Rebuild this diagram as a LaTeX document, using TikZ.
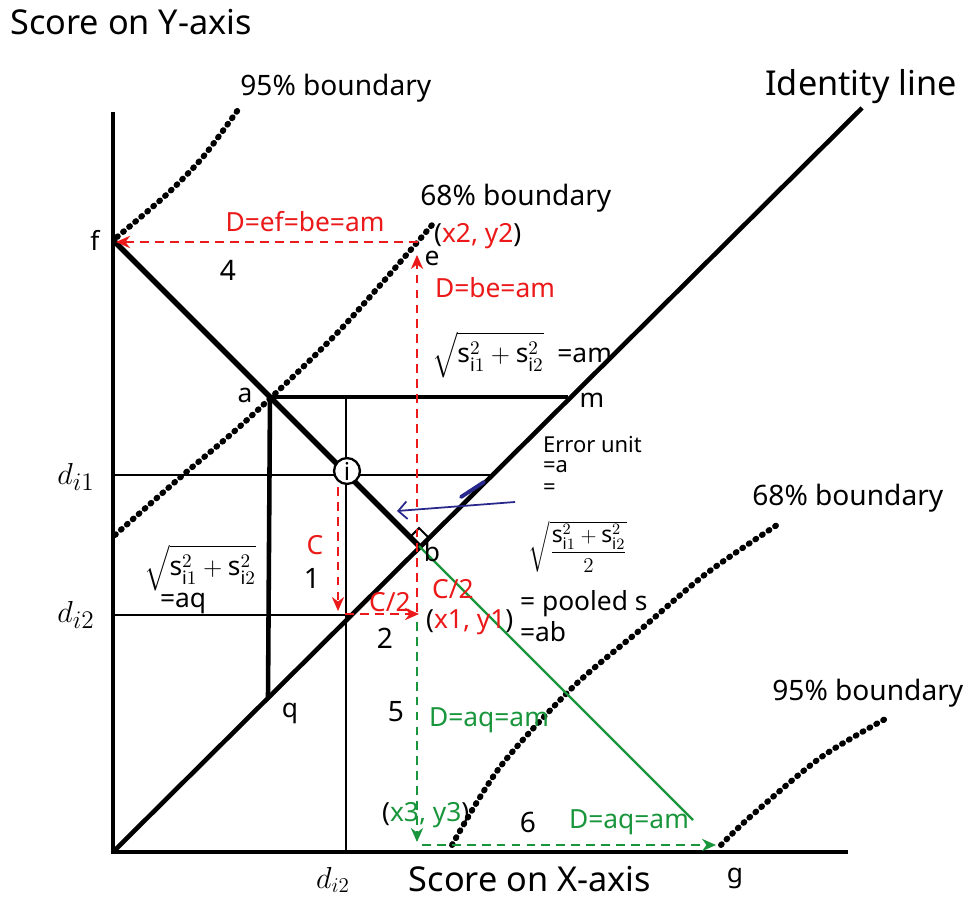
\documentclass[tikz,border=0pt]{standalone}
\usepackage{fontspec}
\setmainfont{Noto Sans}
\usepackage{amsmath}
\usetikzlibrary{arrows.meta,positioning,calc}
\definecolor{errRed}{RGB}{235,25,25}
\definecolor{errGreen}{RGB}{25,150,60}
\definecolor{errBlue}{RGB}{40,40,140}
\begin{document}
\begin{tikzpicture}[x=0.02cm,y=-0.02cm,
    axis/.style={line width=2pt},
    thk/.style={line width=2.6pt},
    thn/.style={line width=1.3pt},
    bnd/.style={line width=3.4pt, dash pattern=on 0.6pt off 3.9pt, line cap=round},
    rdash/.style={errRed, line width=1pt, dash pattern=on 5pt off 3.5pt,
                  -{Stealth[length=8pt,width=7pt]}},
    gdash/.style={rdash, errGreen},
    lbl/.style={font=\fontsize{15}{17}\selectfont, inner sep=1pt},
    big/.style={font=\fontsize{16}{18}\selectfont, inner sep=0pt},
    title/.style={font=\fontsize{19.5}{21}\selectfont, inner sep=0pt}
  ]
  \fill[white] (0,0) rectangle (970,902);
  % Key points
  \coordinate (o) at (113,852);
  \coordinate (ytop) at (113,112);
  \coordinate (xend) at (848,852);
  \coordinate (idend) at (862,108);
  \coordinate (f) at (113,240);
  \coordinate (a) at (270,397);
  \coordinate (m) at (568,397);
  \coordinate (q) at (268,697);
  \coordinate (b) at (419,546);
  \coordinate (d1l) at (113,475);
  \coordinate (d1r) at (490,475);
  \coordinate (d2l) at (113,615);
  \coordinate (d2r) at (350,615);
  \coordinate (vtop) at (346,397);
  \coordinate (vbot) at (346,852);
  \coordinate (e) at (417,255);
  \coordinate (ebase) at (417,612);
  \coordinate (fe) at (418,242);
  \coordinate (fa) at (116,242);
  \coordinate (c1) at (338,487);
  \coordinate (c2) at (338,611);
  \coordinate (h1) at (345,614);
  \coordinate (h2) at (419,614);
  \coordinate (gv1) at (417,622);
  \coordinate (x3) at (417,842);
  \coordinate (gh1) at (422,845);
  \coordinate (g) at (716,845);
  \coordinate (gend) at (693,820);
  % Axes and grid
  \draw[axis] (ytop) -- (o) -- (xend);
  \draw[thk] (o) -- (idend);
  \draw[line width=3.2pt] (f) -- (b);
  \draw[thk] (a) -- (m);
  \draw[thk] (a) -- (q);
  \draw[thn] (d1l) -- (d1r);
  \draw[thn] (d2l) -- (d2r);
  \draw[thn] (vtop) -- (vbot);
  \node[circle, draw, line width=1.3pt, fill=white, minimum size=26pt*0.567, inner sep=0pt,
        font=\fontsize{14}{15}\selectfont] (i) at (347,471) {i};
  % Right angle at b
  \draw[line width=1.2pt] ($(b)+(-9,-9)$) -- ($(b)+(0,-18)$) -- ($(b)+(9,-9)$);
  % Boundaries
  \draw[bnd] plot[smooth] coordinates {(117,237) (165,196) (203,157) (240,107)};
  \draw[bnd] plot[smooth] coordinates {(115,535) (183,475) (247,420) (340,330) (432,225)};
  \draw[bnd] plot[smooth] coordinates {(452,845) (500,767) (573,687) (640,630) (707,573) (780,523)};
  \draw[bnd] plot[smooth] coordinates {(721,845) (750,817) (820,758) (887,718)};
  % Red and green moves
  \draw[rdash] (c1) -- (c2);
  \draw[rdash] (h1) -- (h2);
  \draw[rdash] (ebase) -- (e);
  \draw[rdash] (fe) -- (fa);
  \draw[errGreen, line width=1.4pt] (b) -- (gend);
  \draw[gdash] (gv1) -- (x3);
  \draw[gdash] (gh1) -- (g);
  % Blue pointer
  \coordinate (bl1) at (515,502);
  \coordinate (bl2) at (397,511);
  \coordinate (bs1) at (484,482);
  \coordinate (bs2) at (461,497);
  \draw[errBlue, line width=1pt, -{Straight Barb[length=5pt,width=10pt]}] (bl1) -- (bl2);
  \draw[errBlue, line width=2.2pt, line cap=round] (bs1) -- (bs2);
  % Titles
  \node[title, anchor=west] (ylab) at (10,22) {Score on Y-axis};
  \node[title, anchor=base] (xlab) at (530,891) {Score on X-axis};
  \node[title, anchor=west] (idlab) at (765,87) {Identity line};
  \node[big, anchor=west] (b95u) at (240,88) {95\% boundary};
  \node[big, anchor=west] (b68u) at (420,198) {68\% boundary};
  \node[big, anchor=west] (b68l) at (752,498) {68\% boundary};
  \node[big, anchor=west] (b95l) at (772,693) {95\% boundary};
  % Point labels
  \node[lbl] (flab) at (95,240) {f};
  \node[lbl] (alab) at (245,395) {a};
  \node[lbl] (mlab) at (592,400) {m};
  \node[lbl] (qlab) at (290,713) {q};
  \node[lbl] (blab) at (432,552) {b};
  \node[lbl] (elab) at (432,258) {e};
  \node[lbl] (glab) at (735,878) {g};
  \node[lbl, font=\fontsize{19}{21}\selectfont] (di1) at (76,477) {$d_{i1}$};
  \node[lbl, font=\fontsize{19}{21}\selectfont] (di2) at (76,615) {$d_{i2}$};
  \node[lbl, font=\fontsize{18}{20}\selectfont] (di2x) at (333,880) {$d_{i2}$};
  % Step numbers
  \node[lbl, font=\fontsize{16}{18}\selectfont] (n1) at (312,578) {1};
  \node[lbl, font=\fontsize{16}{18}\selectfont] (n2) at (385,638) {2};
  \node[lbl, font=\fontsize{16}{18}\selectfont] (n4) at (228,270) {4};
  \node[lbl, font=\fontsize{16}{18}\selectfont] (n5) at (396,712) {5};
  \node[lbl, font=\fontsize{16}{18}\selectfont] (n6) at (528,822) {6};
  % Red labels
  \node[lbl, errRed] (cl) at (315,545) {C};
  \node[lbl, errRed] (c2l) at (390,602) {C/2};
  \node[lbl, errRed] (c2r) at (453,589) {C/2};
  \node[lbl, errRed] (efl) at (305,222) {D=ef=be=am};
  \node[lbl, errRed, anchor=west] (bel) at (433,288) {D=be=am};
  \node[lbl, anchor=west] (xy2) at (432,236) {(\textcolor{errRed}{x2, y2})};
  \node[lbl, anchor=west] (xy1) at (424,622) {(\textcolor{errRed}{x1, y1})};
  % Green labels
  \node[lbl, errGreen, anchor=west] (aq1) at (427,720) {D=aq=am};
  \node[lbl, errGreen, anchor=west] (aq2) at (567,822) {D=aq=am};
  \node[lbl, anchor=west] (xy3) at (380,815) {(\textcolor{errGreen}{x3, y3})};
  % Formulas
  \node[lbl, anchor=west] (amf) at (430,355)
    {$\sqrt{\mathrm{s}_{\mathrm{i}1}^2+\mathrm{s}_{\mathrm{i}2}^2}$\ \ =am};
  \node[lbl] (aqf) at (200,568) {$\sqrt{\mathrm{s}_{\mathrm{i}1}^2+\mathrm{s}_{\mathrm{i}2}^2}$};
  \node[lbl, anchor=west] (aqe) at (158,603) {=aq};
  \node[lbl, font=\fontsize{12.5}{14}\selectfont, anchor=west] (eu) at (541,445) {Error unit};
  \node[lbl, font=\fontsize{12.5}{14}\selectfont, anchor=west] (eua) at (541,467) {=a};
  \node[lbl, font=\fontsize{12.5}{14}\selectfont, anchor=west] (eueq) at (541,489) {=};
  \node[lbl, font=\fontsize{13}{15}\selectfont] (euf) at (578,547)
    {$\sqrt{\dfrac{\mathrm{s}_{\mathrm{i}1}^2+\mathrm{s}_{\mathrm{i}2}^2}{2}}$};
  \node[lbl, anchor=west] (pool) at (518,604) {= pooled s};
  \node[lbl, anchor=west] (abl) at (518,632) {=ab};
\end{tikzpicture}
\end{document}
